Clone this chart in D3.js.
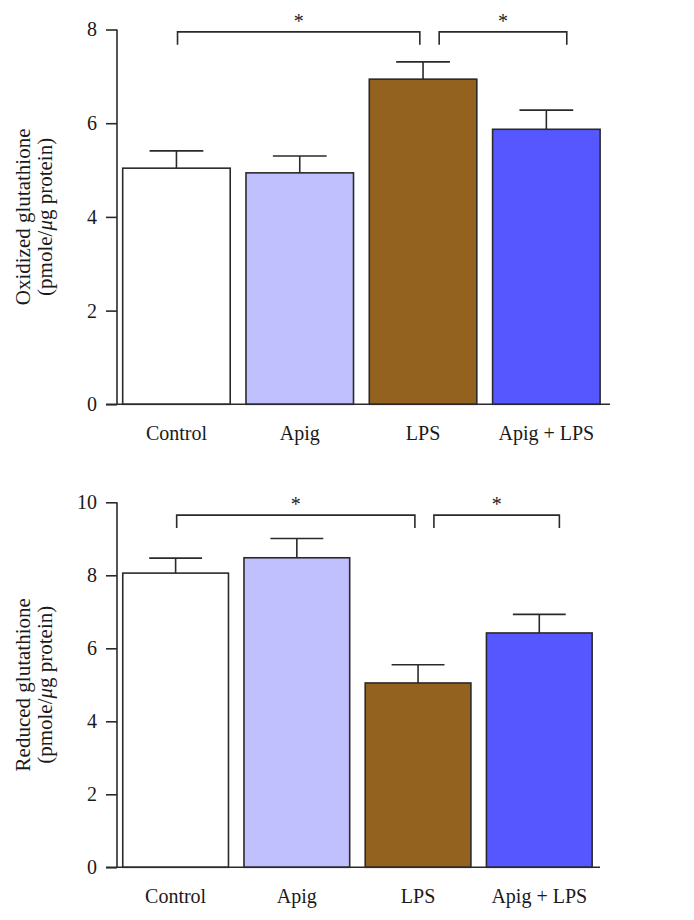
<!DOCTYPE html>
<html>
<head>
<meta charset="utf-8">
<script src="https://cdn.jsdelivr.net/npm/d3@7"></script>
<style>
  html, body { margin: 0; padding: 0; background: #ffffff; }
  svg { display: block; }
  text { font-family: "Liberation Serif", "Times New Roman", serif; fill: #1a1a1a; }
</style>
</head>
<body>
<div id="chart"></div>
<script>
// ---- data ----
const categories = ["Control", "Apig", "LPS", "Apig + LPS"];
const barColors = ["#FFFFFF", "#C0C0FF", "#93621F", "#5757FF"];

const oxidizedMeans  = [5.04, 4.94, 6.94, 5.87];
const oxidizedErrors = [0.37, 0.36, 0.37, 0.41];
const oxidizedTicks  = [0, 2, 4, 6, 8];
const oxidizedLabel  = ["Oxidized glutathione", "(pmole/", "μ", "g protein)"];
const oxidizedSig    = [{ from: 0, to: 2, level: 7.95, mark: "*" },
                        { from: 2, to: 3, level: 7.95, mark: "*" }];

const reducedMeans  = [8.06, 8.48, 5.05, 6.42];
const reducedErrors = [0.41, 0.53, 0.50, 0.51];
const reducedTicks  = [0, 2, 4, 6, 8, 10];
const reducedLabel  = ["Reduced glutathione", "(pmole/", "μ", "g protein)"];
const reducedSig    = [{ from: 0, to: 2, level: 9.65, mark: "*" },
                       { from: 2, to: 3, level: 9.65, mark: "*" }];

// ---- layout ----
const W = 694, H = 920;
const svg = d3.select("#chart").append("svg").attr("width", W).attr("height", H);
const ink = "#2a2a2a";
const fontSize = 20;
const labelFontSize = 21;

function panel(cfg) {
  const g = svg.append("g");
  const x = d3.scaleBand().domain(categories)
    .range([cfg.x0, cfg.x1]).paddingInner(0.128).paddingOuter(0.064);
  const y = d3.scaleLinear().domain([0, d3.max(cfg.ticks)]).range([cfg.yBottom, cfg.yTop]);
  const axisX = cfg.axisX;

  // bars
  g.selectAll("rect.bar").data(cfg.means).join("rect")
    .attr("class", "bar")
    .attr("x", (d, i) => x(categories[i]))
    .attr("y", d => y(d))
    .attr("width", x.bandwidth())
    .attr("height", d => y(0) - y(d))
    .attr("fill", (d, i) => barColors[i])
    .attr("stroke", ink).attr("stroke-width", 1.6);

  // error bars (upper only)
  const capW = x.bandwidth() * 0.5;
  cfg.means.forEach((m, i) => {
    const cx = x(categories[i]) + x.bandwidth() / 2;
    g.append("line").attr("x1", cx).attr("x2", cx)
      .attr("y1", y(m)).attr("y2", y(m + cfg.errors[i]))
      .attr("stroke", ink).attr("stroke-width", 1.6);
    g.append("line").attr("x1", cx - capW / 2).attr("x2", cx + capW / 2)
      .attr("y1", y(m + cfg.errors[i])).attr("y2", y(m + cfg.errors[i]))
      .attr("stroke", ink).attr("stroke-width", 1.6);
  });

  // y axis
  const yAxis = d3.axisLeft(y).tickValues(cfg.ticks).tickSize(11).tickPadding(9)
    .tickFormat(d3.format("d"));
  const ya = g.append("g").attr("transform", `translate(${axisX},0)`).call(yAxis);
  ya.select(".domain").attr("stroke", ink).attr("stroke-width", 1.6)
    .attr("d", `M0,${y(0)}V${y(d3.max(cfg.ticks))}`);
  ya.selectAll(".tick line").attr("stroke", ink).attr("stroke-width", 1.6);
  ya.selectAll(".tick text").style("font-size", fontSize + "px")
    .style("font-family", '"Liberation Serif", serif').attr("fill", "#1a1a1a");

  // x axis baseline
  g.append("line").attr("x1", axisX - 11).attr("x2", cfg.xAxisEnd)
    .attr("y1", y(0)).attr("y2", y(0))
    .attr("stroke", ink).attr("stroke-width", 1.6);

  // category labels
  g.selectAll("text.cat").data(categories).join("text")
    .attr("class", "cat")
    .attr("x", d => x(d) + x.bandwidth() / 2)
    .attr("y", y(0) + 36)
    .attr("text-anchor", "middle")
    .style("font-size", fontSize + "px")
    .text(d => d);

  // y label (two lines)
  const cy = (y(0) + y(d3.max(cfg.ticks))) / 2;
  g.append("text")
    .attr("transform", `translate(${cfg.labelX[0]},${cy}) rotate(-90)`)
    .attr("text-anchor", "middle")
    .style("font-size", labelFontSize + "px")
    .text(cfg.label[0]);
  const t2 = g.append("text")
    .attr("transform", `translate(${cfg.labelX[1]},${cy}) rotate(-90)`)
    .attr("text-anchor", "middle")
    .style("font-size", labelFontSize + "px");
  t2.append("tspan").text(cfg.label[1]);
  t2.append("tspan").style("font-style", "italic").text(cfg.label[2]);
  t2.append("tspan").text(cfg.label[3]);

  // significance brackets
  const fracFrom = [0.51, 0.65];
  const fracTo = [0.47, 0.69];
  cfg.sig.forEach((s, k) => {
    const xa = x(categories[s.from]) + x.bandwidth() * fracFrom[k];
    const xb = x(categories[s.to]) + x.bandwidth() * fracTo[k];
    const yy = y(s.level);
    g.append("path")
      .attr("d", `M${xa},${yy + 13}V${yy}H${xb}V${yy + 13}`)
      .attr("fill", "none").attr("stroke", ink).attr("stroke-width", 1.6);
    g.append("text").attr("x", (xa + xb) / 2).attr("y", yy - 4)
      .attr("text-anchor", "middle").style("font-size", fontSize + "px")
      .attr("fill", "#444").text(s.mark);
  });
}

panel({
  means: oxidizedMeans, errors: oxidizedErrors, ticks: oxidizedTicks,
  label: oxidizedLabel, sig: oxidizedSig,
  x0: 114.8, x1: 608, yTop: 29.5, yBottom: 404.3,
  axisX: 117, xAxisEnd: 610, labelX: [30, 52]
});

panel({
  means: reducedMeans, errors: reducedErrors, ticks: reducedTicks,
  label: reducedLabel, sig: reducedSig,
  x0: 115, x1: 599.9, yTop: 502.3, yBottom: 867.3,
  axisX: 117, xAxisEnd: 600, labelX: [30, 52]
});
</script>
</body>
</html>
